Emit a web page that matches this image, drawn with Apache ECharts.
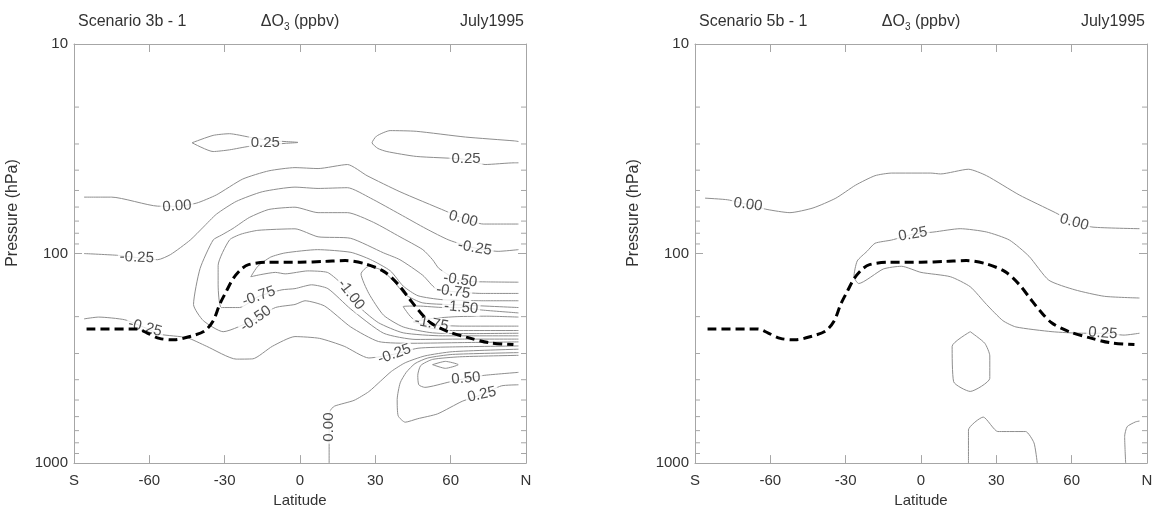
<!DOCTYPE html>
<html>
<head>
<meta charset="utf-8">
<script src="https://cdn.jsdelivr.net/npm/echarts@6/dist/echarts.min.js"></script>
<style>
  html, body { margin: 0; padding: 0; background: #fff; }
  #chart { width: 1157px; height: 513px; }
</style>
</head>
<body>
<div id="chart"></div>
<script>
// ---- axis ticks -------------------------------------------------------
const latTicks = [-90, -60, -30, 0, 30, 60, 90];
const latTickLabels = ['S', '-60', '-30', '0', '30', '60', 'N'];
const pressureTicks = [10, 100, 1000];
const minorPressures = [20, 30, 40, 50, 60, 70, 80, 90, 200, 300, 400, 500, 600, 700, 800, 900];

// ---- tropopause (same in both panels), [latitude, hPa] -----------------
const tropopause = [[-85,229],[-65,229],[-61,239],[-56,254],[-50,258],[-43.5,248],[-38,234],[-34.6,210],[-32,175],[-29.4,152],[-26.7,132],[-23.5,119],[-20.5,113],[-13,110],[0,110],[10,109],[18,108],[26,112],[33.5,122],[39,140],[43.5,164],[47.3,187],[52,214],[59,236],[67,252],[75,266],[85,272]];

// ---- Scenario 3b - 1 : ozone change contours, [latitude, hPa] ----------
const s3b_pos025_loop = [[-43.0,29.6],[-34.6,27.3],[-28.1,26.8],[-20.3,27.8],[-11.7,28.9],[-0.8,29.5],[-5.9,29.8],[-20.3,30.8],[-28.1,32.0],[-34.6,32.6],[-43.0,29.6]];
const s3b_pos025_north = [[87,29.2],[85.4,29.0],[65.9,27.8],[46.3,26.1],[35.9,25.9],[30.5,27.5],[28.7,29.6],[31,31.5],[34.6,32.6],[46.3,34.4],[66,35.5],[73.7,37.6],[85.4,36.9],[87,36.9]];
const s3b_zero_upper = [[-86,53.8],[-75,53.8],[-56.7,59.4],[-49,59.5],[-41.1,57.4],[-33.3,52.5],[-22.8,44.1],[-12.4,40.3],[-2,38.9],[7.2,39.3],[18.9,37.6],[26.7,42.5],[39.8,50.7],[58,62.7],[65,68],[73,72.3],[87,72.3]];
const s3b_neg025_upper = [[-86,100],[-72.4,102],[-65,104.5],[-56.7,107],[-51.5,101],[-43.7,86.2],[-38.5,74.8],[-33.3,64.9],[-25.4,56.4],[-15,50.7],[-2,48.2],[7.2,48.9],[18.9,48.5],[28.1,54.4],[39.8,64.9],[50.2,76.1],[59.3,86.2],[69.6,94.1],[78.9,97.6],[87,95.8]];
const s3b_neg050 = [[87,137],[73.7,136.5],[63.8,135],[55.4,118],[52.8,107],[48.9,95.8],[39.8,83.2],[29.3,71.0],[18.9,63.8],[7.2,63.8],[-2,60.1],[-12.4,61.6],[-20.2,67.3],[-26.7,75.9],[-31.3,81.7],[-34.6,86.2],[-39.8,118],[-42.4,175],[-38.5,209],[-30.6,236],[-17.6,205],[-9.8,181],[-2,175],[2,168],[9.8,178],[20.2,224],[31.3,263],[45,268],[64.6,266],[87,264]];
const s3b_neg075 = [[87,155],[72.4,155],[61,152],[54.1,147],[48.9,127],[39.8,107],[33.3,99.3],[20.2,84.6],[7.2,83.2],[-2,76.2],[-16.8,77.5],[-23.5,80.8],[-28.1,86.2],[-32.6,114],[-32.6,141],[-31.3,181],[-24.1,181],[-16.4,160],[-7.2,149],[-2,147],[4.6,141],[11.1,147],[20.2,184],[33.3,240],[46.2,257],[64.6,256],[87,256]];
const s3b_neg100 = [[87,168],[72.4,168],[56.7,166],[47,159],[41.1,143],[36,121],[28.2,107],[20.3,98.7],[7,95.8],[-5.9,99.3],[-11.7,104],[-16.8,115],[-19.6,129],[-15.6,126],[-9.8,123],[-5.9,125],[3.1,121],[10.9,123],[15.6,136],[20.3,158],[24.3,183],[31.3,214],[41.1,239],[56.7,247],[87,247]];
const s3b_neg125 = [[87,181],[64.6,176],[48.9,172],[41.9,157],[37.2,135],[32.5,120],[27.4,115],[24.3,125],[27.4,155],[33.3,197],[41.1,224],[52.8,239],[68.5,241],[87,240]];
const s3b_neg150 = [[87,192],[72.4,186],[64.2,181],[57.5,181],[47,178],[41.1,179],[44.2,201],[49.7,224],[60.7,233],[87,233]];
const s3b_neg175 = [[87,201],[74.3,199],[62.6,200],[52.8,204],[45,212],[52.8,219],[64.6,222],[87,222]];
const s3b_neg025_lower = [[-86,205],[-80.2,201],[-69.8,207],[-61.7,226],[-55.6,243],[-45,252],[-37.2,277],[-25.4,319],[-18.8,318],[-11,277],[-2,249],[7.8,254],[17.6,277],[27.4,315],[37.6,302],[47,283],[60.7,279],[87,276]];
const s3b_zero_lower = [[11.6,1000],[11.6,818],[11.6,675],[12,564],[13.7,535],[21.5,502],[27.4,456],[32.1,406],[36.4,365],[41.9,332],[49.7,308],[60.7,294],[87,286]];
const s3b_pos025_lower = [[87,297],[60.7,303],[50.9,315],[45.8,335],[42.3,369],[39.9,414],[38.7,497],[39.1,595],[41.9,638],[46.9,614],[54.8,582],[64.6,507],[72.4,471],[80.2,428],[87,423]];
const s3b_pos050 = [[87,306],[63.6,311],[52.8,320],[48.1,342],[46.9,381],[47.3,423],[49.7,435],[59.5,410],[66.1,394],[73.6,381],[87,369]];
const s3b_pos075 = [[52.8,339],[57.9,327],[63,339],[57.9,353],[52.8,339]];

const s3bLabels = [
  [-13.8, 29.6, '0.25'], [66.1, 35.2, '0.25'], [-49, 59.5, '0.00'], [65, 68.4, '0.00'],
  [-65, 104.5, '-0.25'], [69.6, 94.1, '-0.25'], [63.8, 134, '-0.50'], [61, 152, '-0.75'],
  [64.2, 181, '-1.50'], [52.4, 216, '-1.75'], [20.3, 157, '-1.00'], [37.6, 302, '-0.25'],
  [66.1, 394, '0.50'], [72.4, 471, '0.25'], [11.6, 673, '0.00'], [-16.4, 160, '-0.75'],
  [-17.6, 205, '-0.50'], [-61.7, 226, '-0.25']
];
const s3bLabelAngles = [0, 0, 4, -15, -2, -10, -8, -8, -5, -10, -52, 20, 5, 12, 90, 20, 35, -15];

// ---- Scenario 5b - 1 ----------------------------------------------------
const s5b_zero = [[-86,54.4],[-77,55.4],[-68.9,58.4],[-61.3,61.6],[-52.2,63.8],[-43,60.6],[-33.9,54.4],[-26.1,47.2],[-18.3,42.5],[-11.7,41.3],[3.9,41.3],[7.8,41.7],[18.9,39.6],[26.1,42.5],[39.1,52.5],[53.5,63.8],[61,71],[68.5,74.8],[87,76.1]];
const s5b_pos025 = [[87,163],[73.1,160],[61.3,149],[50.9,134],[43,103],[35.2,86.2],[26.1,78.9],[15.6,76.1],[5.2,78.9],[-3.2,80.9],[-11.7,86.2],[-18.3,89.3],[-21.5,97.6],[-25.4,108.5],[-26.7,129],[-24.8,139],[-15,118.5],[-7.8,115],[0,123],[11.7,129],[19.6,144],[26.1,175],[32.6,209],[37.8,224],[52.2,236],[63.9,240],[72.4,240],[80.9,245],[87,240]];
const s5b_loop = [[19.6,236],[25.4,268],[27.4,308],[27.4,394],[19.6,455],[13,409],[12.4,277],[19.6,236]];
const s5b_surface = [[18.9,1000],[18.9,695],[24.8,603],[30.6,707],[37.8,707],[41.7,707],[45,801],[46.3,1000]];
const s5b_edge = [[87,630],[85.4,636],[82.1,670],[81.1,745],[81.5,1000]];

const s5bLabels = [[-68.9, 58.4, '0.00'], [61, 71, '0.00'], [-3.2, 80.9, '0.25'], [72.4, 240, '0.25']];
const s5bLabelAngles = [-8, -15, 10, -4];

// ---- chart --------------------------------------------------------------
const FONT = "'Liberation Sans', Arial, Helvetica, sans-serif";
const AXIS_COLOR = '#a6a6a6';
const LINE_COLOR = '#8e8e8e';
const TEXT_COLOR = '#333';

const panels = [
  { left: 74, title: 'Scenario 3b - 1',
    lines: [s3b_pos025_loop, s3b_pos025_north, s3b_zero_upper, s3b_neg025_upper, s3b_neg050, s3b_neg075,
            s3b_neg100, s3b_neg125, s3b_neg150, s3b_neg175, s3b_neg025_lower, s3b_zero_lower,
            s3b_pos025_lower, s3b_pos050, s3b_pos075],
    labels: s3bLabels, angles: s3bLabelAngles },
  { left: 695, title: 'Scenario 5b - 1',
    lines: [s5b_zero, s5b_pos025, s5b_loop, s5b_surface, s5b_edge],
    labels: s5bLabels, angles: s5bLabelAngles }
];
const PLOT_TOP = 44, PLOT_W = 452, PLOT_H = 430;

const grids = [], xAxes = [], yAxes = [], series = [], graphics = [];

panels.forEach((pn, gi) => {
  grids.push({ left: pn.left, top: PLOT_TOP, width: PLOT_W, height: PLOT_H, containLabel: false });

  ['bottom', 'top'].forEach(pos => {
    xAxes.push({
      type: 'value', gridIndex: gi, position: pos, min: -90, max: 90, interval: 30,
      axisLine: { show: true, onZero: false, lineStyle: { color: AXIS_COLOR, width: 1 } },
      axisTick: { show: true, inside: true, length: 8, lineStyle: { color: AXIS_COLOR } },
      splitLine: { show: false },
      axisLabel: pos === 'bottom' ? {
        show: true, margin: 10, color: TEXT_COLOR, fontSize: 15, fontFamily: FONT,
        showMinLabel: true, showMaxLabel: true,
        formatter: v => { const k = latTicks.indexOf(Math.round(v)); return k >= 0 ? latTickLabels[k] : ''; }
      } : { show: false },
      name: pos === 'bottom' ? 'Latitude' : '',
      nameLocation: 'middle', nameGap: 26,
      nameTextStyle: { color: TEXT_COLOR, fontSize: 15, fontFamily: FONT }
    });
  });

  ['left', 'right'].forEach(pos => {
    yAxes.push({
      type: 'log', logBase: 10, gridIndex: gi, position: pos, min: 10, max: 1000, inverse: true,
      axisLine: { show: true, onZero: false, lineStyle: { color: AXIS_COLOR, width: 1 } },
      axisTick: { show: true, inside: true, length: 8, lineStyle: { color: AXIS_COLOR } },
      splitLine: { show: false },
      minorTick: { show: false },
      axisLabel: pos === 'left' ? {
        show: true, margin: 6, color: TEXT_COLOR, fontSize: 15, fontFamily: FONT,
        showMinLabel: true, showMaxLabel: true,
        formatter: v => pressureTicks.includes(Math.round(v)) ? String(Math.round(v)) : ''
      } : { show: false }
    });
  });

  const xi = gi * 2, yi = gi * 2;

  // intermediate pressure ticks on both vertical edges
  series.push({
    type: 'custom', xAxisIndex: xi, yAxisIndex: yi, silent: true, z: 3, animation: false,
    data: minorPressures.map(p => [0, p]), encode: { x: 0, y: 1 },
    renderItem: (params, api) => {
      const p = api.value(1);
      const l = api.coord([-90, p]);
      const r = api.coord([90, p]);
      const st = { stroke: AXIS_COLOR, lineWidth: 1 };
      return { type: 'group', children: [
        { type: 'line', shape: { x1: l[0], y1: l[1], x2: l[0] + 5, y2: l[1] }, style: st },
        { type: 'line', shape: { x1: r[0], y1: r[1], x2: r[0] - 5, y2: r[1] }, style: st }
      ] };
    }
  });

  // contour lines
  pn.lines.forEach(line => {
    series.push({
      type: 'line', xAxisIndex: xi, yAxisIndex: yi, data: line,
      showSymbol: false, symbol: 'none', smooth: 0.2, silent: true, z: 2, animation: false,
      lineStyle: { color: LINE_COLOR, width: 1 }
    });
  });

  // contour labels
  series.push({
    type: 'scatter', xAxisIndex: xi, yAxisIndex: yi, symbolSize: 1, silent: true, z: 4, animation: false,
    itemStyle: { color: 'rgba(0,0,0,0)' },
    label: { show: true, position: 'inside', color: '#222', fontSize: 15, fontFamily: FONT,
             backgroundColor: '#fff', padding: [0, 2], lineHeight: 15 },
    data: pn.labels.map((l, k) => ({ value: [l[0], l[1]], label: { formatter: l[2], rotate: pn.angles[k] } }))
  });

  // tropopause
  series.push({
    type: 'line', xAxisIndex: xi, yAxisIndex: yi, data: tropopause,
    showSymbol: false, symbol: 'none', smooth: 0.3, silent: true, z: 6, animation: false,
    lineStyle: { color: '#000', width: 3, type: [9, 5] }
  });

  // headings and vertical axis title
  const cx = pn.left + PLOT_W / 2;
  graphics.push(
    { type: 'text', x: pn.left + 4, y: 22, style: { text: pn.title, fill: TEXT_COLOR, font: '16px ' + FONT, align: 'left', verticalAlign: 'middle' } },
    { type: 'text', x: cx, y: 22, style: {
        text: '{a|\u0394O}{s|3}{a| (ppbv)}', align: 'center', verticalAlign: 'middle', fill: TEXT_COLOR,
        rich: { a: { fontSize: 16, fontFamily: FONT, lineHeight: 20, fill: TEXT_COLOR },
                s: { fontSize: 10, fontFamily: FONT, lineHeight: 10, verticalAlign: 'bottom', fill: TEXT_COLOR } } } },
    { type: 'text', x: pn.left + PLOT_W - 2, y: 22, style: { text: 'July1995', fill: TEXT_COLOR, font: '16px ' + FONT, align: 'right', verticalAlign: 'middle' } },
    { type: 'text', x: pn.left - 61, y: 213, rotation: Math.PI / 2, style: { text: 'Pressure (hPa)', fill: TEXT_COLOR, font: '16px ' + FONT, align: 'center', verticalAlign: 'middle' } }
  );
});

const chart = echarts.init(document.getElementById('chart'), null, { renderer: 'canvas' });
chart.setOption({
  animation: false,
  backgroundColor: '#fff',
  grid: grids,
  xAxis: xAxes,
  yAxis: yAxes,
  series: series,
  graphic: graphics
});
</script>
</body>
</html>
